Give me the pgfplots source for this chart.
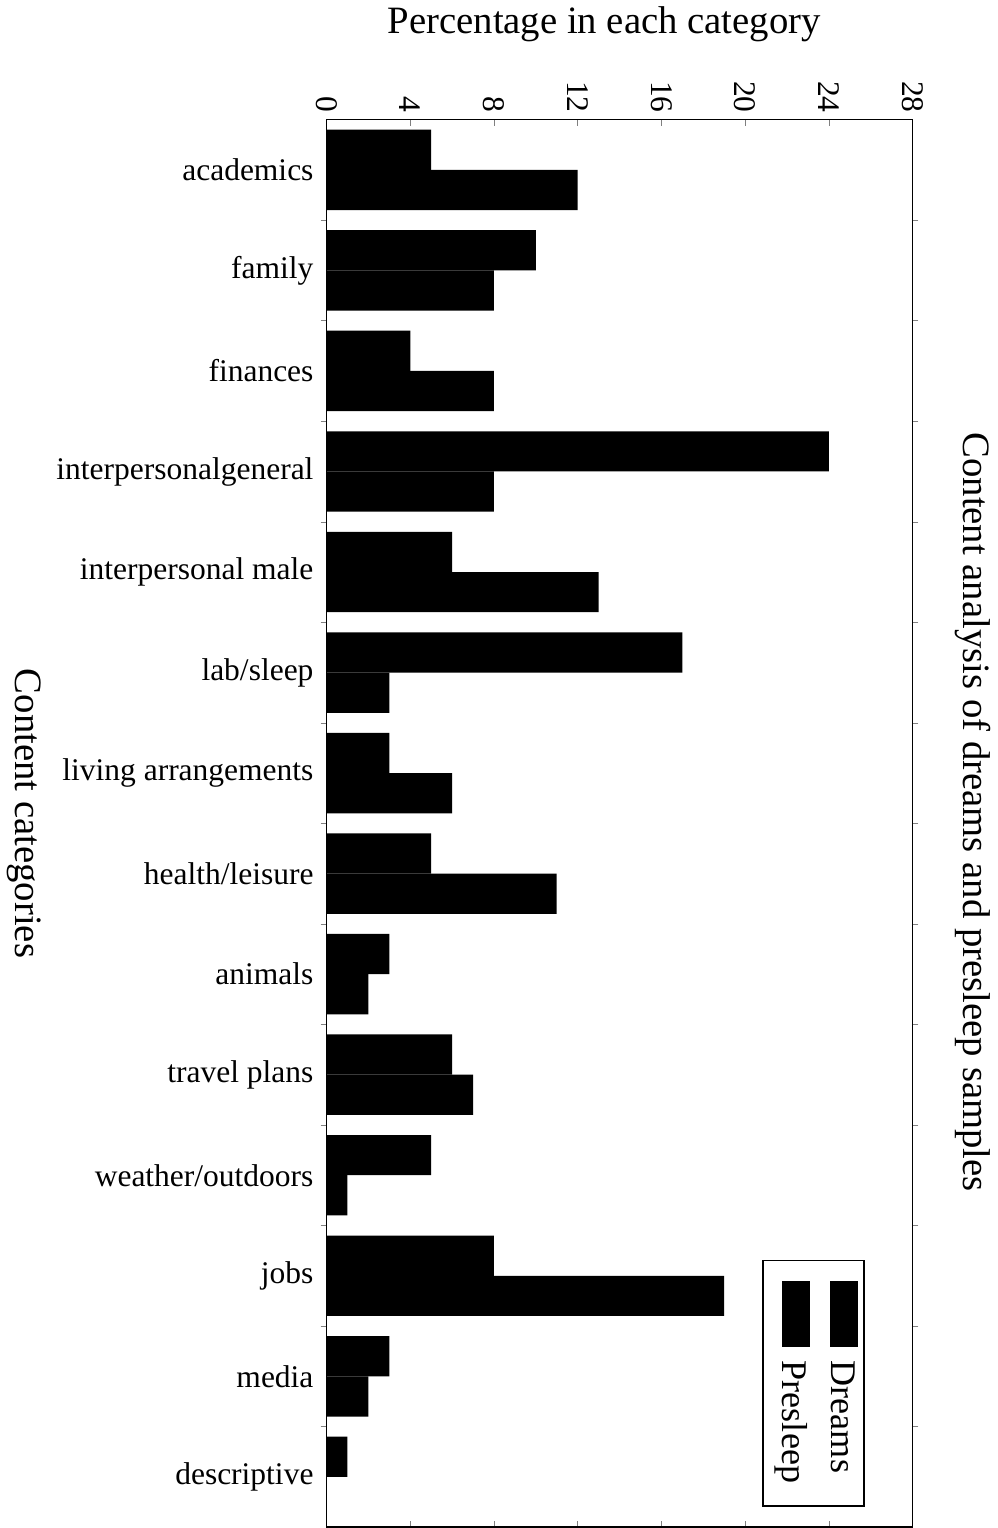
\documentclass[border=0pt]{standalone}
\usepackage{fontspec}
\setmainfont{Liberation Serif}
\usepackage{graphicx}
\usepackage{pgfplots}
\pgfplotsset{compat=1.18}
\newcommand{\legentry}[1]{\raisebox{\depth}{\rotatebox{-90}{\hspace{6.5pt}\rule[-0.5pt]{33pt}{14pt}\hspace{7pt}#1\hspace{7pt}}}}
\begin{document}
\begin{tikzpicture}
\begin{axis}[
  scale only axis,
  width=292pt, height=701.5pt,
  xbar, bar width=0.4,
  xmin=0, xmax=28,
  ymin=-0.5, ymax=13.5,
  y dir=reverse,
  axis line style={line width=0.9pt},
  xtick={0,4,...,28},
  xticklabel pos=upper,
  xtick pos=both,
  xtick align=inside,
  major tick length=3pt,
  minor tick length=3pt,
  xticklabel style={rotate=-90, anchor=east, font=\fontsize{15.7}{18}\selectfont},
  /pgf/number format/assume math mode=true,
  ytick={0,...,13},
  yticklabels={academics,family,finances,interpersonalgeneral,interpersonal male,lab/sleep,living arrangements,health/leisure,animals,travel plans,weather/outdoors,jobs,media,descriptive},
  minor ytick={0.5,1.5,...,12.5},
  every major y tick/.append style={draw=none},
  ytick pos=both,
  yticklabel pos=left,
  yticklabel style={font=\fontsize{15.7}{18}\selectfont},
  every axis x label/.style={at={(axis description cs:0.474,1.0677)}, anchor=center},
  every axis y label/.style={at={(axis description cs:-0.517,0.507)}, anchor=center, rotate=-90},
  every axis title/.style={at={(axis description cs:1.103,0.508)}, anchor=center, rotate=-90},
  label style={font=\fontsize{19.3}{22}\selectfont},
  title style={font=\fontsize{19.3}{22}\selectfont},
  xlabel={Percentage in each category},
  ylabel={Content categories},
  title={Content analysis of dreams and presleep samples},
  legend columns=2,
  reverse legend,
  legend style={at={(axis cs:25.73,13.30)}, anchor=south east,
    font=\fontsize{18}{20}\selectfont, draw=black, line width=0.8pt,
    inner sep=1pt, column sep=3pt,
    nodes={inner sep=2pt}, cells={anchor=north}},
]
\addplot[fill=black, draw=none, bar shift=-0.2,
  legend image code/.code={}]
  coordinates {(5,0) (10,1) (4,2) (24,3) (6,4) (17,5) (3,6) (5,7) (3,8) (6,9) (5,10) (8,11) (3,12) (1,13)};
\addplot[fill=black, draw=none, bar shift=0.2,
  legend image code/.code={}]
  coordinates {(12,0) (8,1) (8,2) (8,3) (13,4) (3,5) (6,6) (11,7) (2,8) (7,9) (1,10) (19,11) (2,12) (0,13)};
\legend{\legentry{Dreams},\legentry{Presleep}}
\end{axis}
\end{tikzpicture}
\end{document}
